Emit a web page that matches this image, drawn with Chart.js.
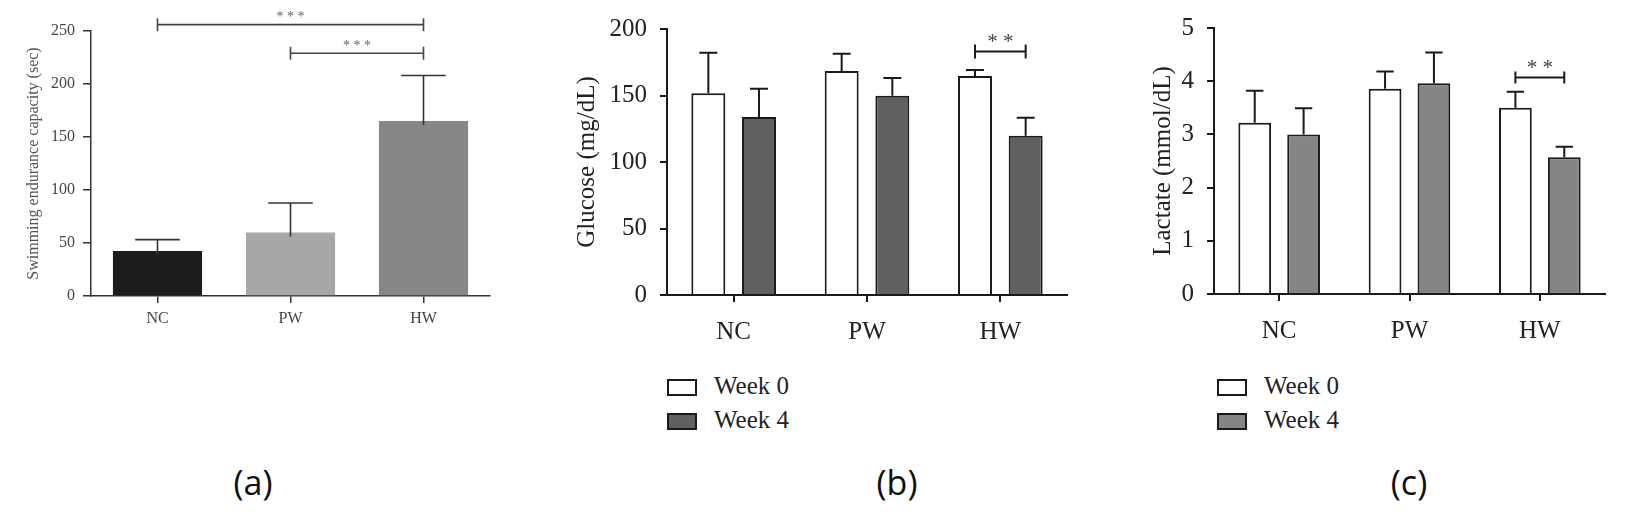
<!DOCTYPE html>
<html>
<head>
<meta charset="utf-8">
<script src="https://cdn.jsdelivr.net/npm/chart.js@4.4.0/dist/chart.umd.min.js"></script>
<style>
  body {
    margin: 0;
    background: #fff;
    width: 1625px;
    height: 512px;
    position: relative;
    overflow: hidden;
    font-family: "Liberation Serif", "DejaVu Serif", serif;
  }
  canvas { position: absolute; top: 0; }
  #chart-a { left: 0; }
  #chart-b { left: 540px; }
  #chart-c { left: 1090px; }
  .legend { position: absolute; top: 370px; }
  .legend-item { display: flex; align-items: center; height: 34px; }
  .legend-box {
    width: 30px;
    height: 17px;
    box-sizing: border-box;
    border: 2px solid #1a1a1a;
  }
  .legend-text {
    font-size: 25px;
    color: #222;
    margin-left: 17px;
    position: relative;
    top: -1px;
  }
  .panel-label {
    position: absolute;
    top: 482px;
    transform: translate(-50%, -50%);
    font-family: "Open Sans", "Noto Sans", sans-serif;
    font-size: 34px;
    line-height: 1;
    color: #111;
  }
</style>
</head>
<body>
<canvas id="chart-a" width="500" height="340"></canvas>
<canvas id="chart-b" width="540" height="340"></canvas>
<canvas id="chart-c" width="535" height="340"></canvas>
<div class="legend" id="legend-b" style="left:667px"></div>
<div class="legend" id="legend-c" style="left:1217px"></div>
<div class="panel-label" style="left:253px">(a)</div>
<div class="panel-label" style="left:897px">(b)</div>
<div class="panel-label" style="left:1409px">(c)</div>

<script>
const groups = ["NC", "PW", "HW"];

// (a) swimming endurance, mean and upper SD
const swimMean = [42.5, 59.8, 165];
const swimSd = [10.7, 27.9, 43];
const swimTicks = [0, 50, 100, 150, 200, 250];

// (b) glucose
const glucoseWeek0 = [151.6, 168.4, 164.7];
const glucoseWeek0Sd = [30.6, 13.0, 4.5];
const glucoseWeek4 = [133.8, 149.8, 119.8];
const glucoseWeek4Sd = [21.3, 13.4, 13.5];
const glucoseTicks = [0, 50, 100, 150, 200];

// (c) lactate
const lactateWeek0 = [3.22, 3.86, 3.5];
const lactateWeek0Sd = [0.6, 0.32, 0.3];
const lactateWeek4 = [3.0, 3.96, 2.57];
const lactateWeek4Sd = [0.49, 0.58, 0.2];
const lactateTicks = [0, 1, 2, 3, 4, 5];

// significance brackets: [dataset, index] to [dataset, index] at a value
const swimSig = [
  { from: [0, 0], to: [0, 2], at: 256, text: "* * *" },
  { from: [0, 1], to: [0, 2], at: 229, text: "* * *" },
];
const glucoseSig = [{ from: [0, 2], to: [1, 2], at: 183, text: "* *" }];
const lactateSig = [{ from: [0, 2], to: [1, 2], at: 4.07, text: "* *" }];

Chart.defaults.font.family = '"Liberation Serif", "DejaVu Serif", serif';
Chart.defaults.animation = false;

const errorBars = {
  id: "errorBars",
  afterDatasetsDraw(chart, args, opts) {
    const { ctx } = chart;
    const y = chart.scales.y;
    chart.data.datasets.forEach((ds, i) => {
      chart.getDatasetMeta(i).data.forEach((bar, j) => {
        const top = y.getPixelForValue(ds.data[j] + ds.errors[j]);
        const half = (bar.width * opts.cap) / 2;
        ctx.save();
        ctx.strokeStyle = opts.color;
        ctx.lineWidth = opts.width;
        ctx.beginPath();
        ctx.moveTo(bar.x, bar.y + opts.inset);
        ctx.lineTo(bar.x, top);
        ctx.moveTo(bar.x - half, top);
        ctx.lineTo(bar.x + half, top);
        ctx.stroke();
        ctx.restore();
      });
    });
  },
};

const brackets = {
  id: "brackets",
  afterDraw(chart, args, opts) {
    const { ctx } = chart;
    const y = chart.scales.y;
    opts.items.forEach((b) => {
      const x1 = chart.getDatasetMeta(b.from[0]).data[b.from[1]].x;
      const x2 = chart.getDatasetMeta(b.to[0]).data[b.to[1]].x;
      const py = y.getPixelForValue(b.at);
      ctx.save();
      ctx.strokeStyle = opts.color;
      ctx.lineWidth = opts.width;
      ctx.beginPath();
      ctx.moveTo(x1, py);
      ctx.lineTo(x2, py);
      ctx.moveTo(x1, py - opts.end);
      ctx.lineTo(x1, py + opts.end);
      ctx.moveTo(x2, py - opts.end);
      ctx.lineTo(x2, py + opts.end);
      ctx.stroke();
      ctx.fillStyle = opts.textColor;
      ctx.font = opts.size + 'px "Liberation Serif", serif';
      ctx.textAlign = "center";
      ctx.textBaseline = "alphabetic";
      ctx.fillText(b.text, (x1 + x2) / 2, py - opts.gap + opts.size * 0.47);
      ctx.restore();
    });
  },
};

const makeScales = (s) => ({
  x: {
    grid: {
      offset: false,
      drawOnChartArea: false,
      color: s.axisColor,
      lineWidth: s.axisWidth,
      tickLength: 7,
    },
    border: { color: s.axisColor, width: s.axisWidth },
    ticks: { color: s.textColor, font: { size: s.labelSize }, padding: s.xPad },
    afterFit: (scale) => {
      scale.height = s.xHeight;
      scale.paddingLeft = 0;
      scale.paddingRight = 0;
    },
  },
  y: {
    min: 0,
    max: s.ticks[s.ticks.length - 1],
    afterBuildTicks: (scale) => {
      scale.ticks = s.ticks.map((v) => ({ value: v }));
    },
    grid: {
      drawOnChartArea: false,
      color: s.axisColor,
      lineWidth: s.axisWidth,
      tickLength: s.tickLength,
    },
    border: { color: s.axisColor, width: s.axisWidth },
    ticks: { color: s.textColor, font: { size: s.tickSize }, padding: s.yPad },
    title: {
      display: true,
      text: s.title,
      color: s.titleColor,
      font: { size: s.titleSize, lineHeight: 1 },
      padding: { top: s.titlePad, bottom: 0 },
    },
    afterFit: (scale) => {
      scale.width = s.yWidth;
      scale.paddingTop = 0;
      scale.paddingBottom = 0;
    },
  },
});

const buildLegend = (chart, el) => {
  chart.data.datasets.forEach((ds) => {
    const row = document.createElement("div");
    row.className = "legend-item";
    row.innerHTML = `<div class="legend-box" style="background:${ds.backgroundColor}"></div>
      <span class="legend-text">${ds.label}</span>`;
    el.appendChild(row);
  });
};

// (a)
new Chart(document.getElementById("chart-a"), {
  type: "bar",
  data: {
    labels: groups,
    datasets: [
      {
        label: "Swimming endurance",
        data: swimMean,
        errors: swimSd,
        backgroundColor: ["#1c1c1c", "#a7a7aa", "#878787"],
        borderWidth: 0,
        categoryPercentage: 0.67,
        barPercentage: 1,
      },
    ],
  },
  options: {
    responsive: false,
    devicePixelRatio: 1,
    layout: { padding: { top: 31, right: 10, left: 0, bottom: 0 } },
    plugins: {
      legend: { display: false },
      tooltip: { enabled: false },
      errorBars: { color: "#333", width: 1.6, cap: 0.5, inset: 4 },
      brackets: {
        items: swimSig,
        color: "#444",
        width: 1.6,
        end: 6.5,
        gap: 10,
        size: 14,
        textColor: "#666",
      },
    },
    scales: makeScales({
      ticks: swimTicks,
      title: "Swimming endurance capacity (sec)",
      axisColor: "#333",
      axisWidth: 1.5,
      textColor: "#444",
      titleColor: "#555",
      labelSize: 16,
      tickSize: 16,
      titleSize: 16,
      titlePad: 26,
      tickLength: 8,
      yPad: 8,
      xPad: 6,
      yWidth: 91,
      xHeight: 44,
    }),
  },
  plugins: [errorBars, brackets],
});

// (b)
const chartB = new Chart(document.getElementById("chart-b"), {
  type: "bar",
  data: {
    labels: groups,
    datasets: [
      {
        label: "Week 0",
        data: glucoseWeek0,
        errors: glucoseWeek0Sd,
        backgroundColor: "#ffffff",
        borderColor: "#1a1a1a",
        borderWidth: 2,
        categoryPercentage: 0.76,
        barPercentage: 0.67,
      },
      {
        label: "Week 4",
        data: glucoseWeek4,
        errors: glucoseWeek4Sd,
        backgroundColor: "#606060",
        borderColor: "#1a1a1a",
        borderWidth: 2,
        categoryPercentage: 0.76,
        barPercentage: 0.67,
      },
    ],
  },
  options: {
    responsive: false,
    devicePixelRatio: 1,
    layout: { padding: { top: 29, right: 13, left: 0, bottom: 0 } },
    plugins: {
      legend: { display: false },
      tooltip: { enabled: false },
      errorBars: { color: "#1a1a1a", width: 2, cap: 0.53, inset: 0 },
      brackets: {
        items: glucoseSig,
        color: "#1a1a1a",
        width: 2,
        end: 7,
        gap: 13.4,
        size: 21,
        textColor: "#444",
      },
    },
    scales: makeScales({
      ticks: glucoseTicks,
      title: "Glucose (mg/dL)",
      axisColor: "#1a1a1a",
      axisWidth: 2,
      textColor: "#222",
      titleColor: "#222",
      labelSize: 25,
      tickSize: 25,
      titleSize: 25,
      titlePad: 35,
      tickLength: 7,
      yPad: 13,
      xPad: 15,
      yWidth: 127,
      xHeight: 45,
    }),
  },
  plugins: [errorBars, brackets],
});
buildLegend(chartB, document.getElementById("legend-b"));

// (c)
const chartC = new Chart(document.getElementById("chart-c"), {
  type: "bar",
  data: {
    labels: groups,
    datasets: [
      {
        label: "Week 0",
        data: lactateWeek0,
        errors: lactateWeek0Sd,
        backgroundColor: "#ffffff",
        borderColor: "#1a1a1a",
        borderWidth: 2,
        categoryPercentage: 0.75,
        barPercentage: 0.67,
      },
      {
        label: "Week 4",
        data: lactateWeek4,
        errors: lactateWeek4Sd,
        backgroundColor: "#858585",
        borderColor: "#1a1a1a",
        borderWidth: 2,
        categoryPercentage: 0.75,
        barPercentage: 0.67,
      },
    ],
  },
  options: {
    responsive: false,
    devicePixelRatio: 1,
    layout: { padding: { top: 28, right: 20, left: 0, bottom: 0 } },
    plugins: {
      legend: { display: false },
      tooltip: { enabled: false },
      errorBars: { color: "#1a1a1a", width: 2, cap: 0.53, inset: 0 },
      brackets: {
        items: lactateSig,
        color: "#1a1a1a",
        width: 2,
        end: 6,
        gap: 13.7,
        size: 21,
        textColor: "#444",
      },
    },
    scales: makeScales({
      ticks: lactateTicks,
      title: "Lactate (mmol/dL)",
      axisColor: "#1a1a1a",
      axisWidth: 2,
      textColor: "#222",
      titleColor: "#222",
      labelSize: 25,
      tickSize: 25,
      titleSize: 25,
      titlePad: 61,
      tickLength: 7,
      yPad: 13,
      xPad: 15,
      yWidth: 124,
      xHeight: 46,
    }),
  },
  plugins: [errorBars, brackets],
});
buildLegend(chartC, document.getElementById("legend-c"));
</script>
</body>
</html>
